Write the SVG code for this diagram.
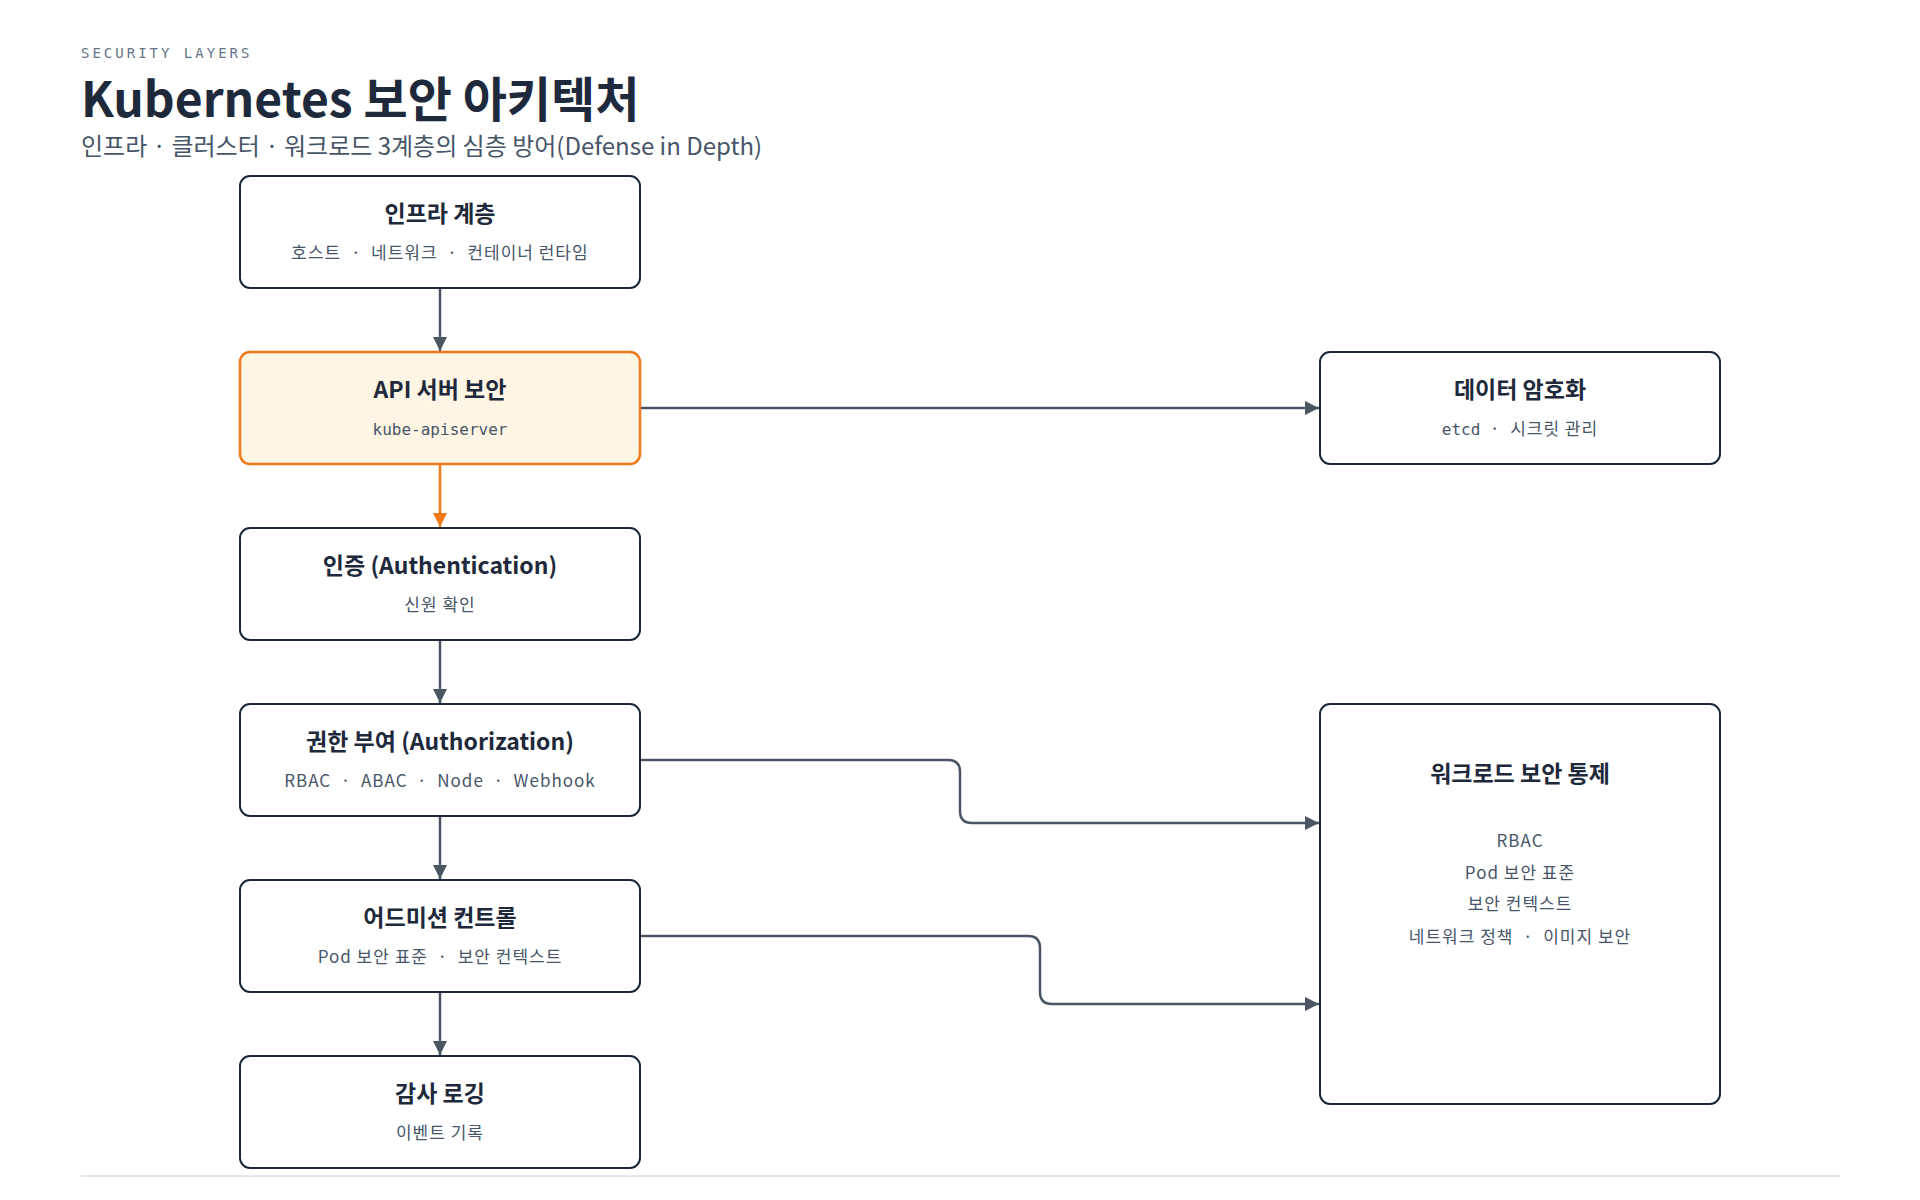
<svg xmlns="http://www.w3.org/2000/svg" width="1920" height="1200" viewBox="0 0 1920 1200">
<style>
.box{fill:#fff;stroke:#1e293b;stroke-width:2}
.hl{fill:#fef5e4;stroke:#f07a1a;stroke-width:2.5}
.t{font-family:"Noto Sans CJK KR","Noto Sans",sans-serif;font-weight:700;font-size:23px;fill:#1e293b;text-anchor:middle}
.s{font-family:"Noto Sans CJK KR","Noto Sans",sans-serif;font-size:17px;letter-spacing:1px;fill:#475569;text-anchor:middle}
.m{font-family:"DejaVu Sans Mono","Noto Sans CJK KR",monospace;font-size:16px;fill:#475569;text-anchor:middle}
.c{fill:none;stroke:#4b5563;stroke-width:2.5}
</style>
<defs>
<marker id="a" viewBox="0 0 10 10" refX="10" refY="5" markerWidth="14" markerHeight="14" markerUnits="userSpaceOnUse" orient="auto"><path d="M0,0L10,5L0,10z" fill="#4b5563"/></marker>
<marker id="ao" viewBox="0 0 10 10" refX="10" refY="5" markerWidth="14" markerHeight="14" markerUnits="userSpaceOnUse" orient="auto"><path d="M0,0L10,5L0,10z" fill="#f07a1a"/></marker>
</defs>
<rect width="1920" height="1200" fill="#fff"/>
<text x="81" y="58" font-family="DejaVu Sans Mono,monospace" font-size="14" letter-spacing="3" fill="#64748b">SECURITY LAYERS</text>
<text x="81" y="117" font-family="Noto Sans CJK KR,Noto Sans,sans-serif" font-weight="700" font-size="48" fill="#1e293b">Kubernetes 보안 아키텍처</text>
<text x="81" y="155" font-family="Noto Sans CJK KR,Noto Sans,sans-serif" font-size="24" fill="#475569">인프라 · 클러스터 · 워크로드 3계층의 심층 방어(Defense in Depth)</text>
<g id="connectors">
<path class="c" d="M440,288V351" marker-end="url(#a)"/>
<path d="M440,464V527" fill="none" stroke="#f07a1a" stroke-width="2.5" marker-end="url(#ao)"/>
<path class="c" d="M440,640V703" marker-end="url(#a)"/>
<path class="c" d="M440,816V879" marker-end="url(#a)"/>
<path class="c" d="M440,992V1055" marker-end="url(#a)"/>
<path class="c" d="M640,408H1319" marker-end="url(#a)"/>
<path class="c" d="M640,760H948Q960,760 960,772V811Q960,823 972,823H1319" marker-end="url(#a)"/>
<path class="c" d="M640,936H1028Q1040,936 1040,948V992Q1040,1004 1052,1004H1319" marker-end="url(#a)"/>
</g>
<g id="infra"><rect class="box" x="240" y="176" width="400" height="112" rx="10"/><text class="t" x="440" y="222">인프라 계층</text><text class="s" x="440" y="259" xml:space="preserve">호스트  ·  네트워크  ·  컨테이너 런타임</text></g>
<g id="api"><rect class="hl" x="240" y="352" width="400" height="112" rx="10"/><text class="t" x="440" y="398">API 서버 보안</text><text class="m" x="440" y="435">kube-apiserver</text></g>
<g id="authn"><rect class="box" x="240" y="528" width="400" height="112" rx="10"/><text class="t" x="440" y="574">인증 (Authentication)</text><text class="s" x="440" y="611">신원 확인</text></g>
<g id="authz"><rect class="box" x="240" y="704" width="400" height="112" rx="10"/><text class="t" x="440" y="750">권한 부여 (Authorization)</text><text class="s" x="440" y="787" xml:space="preserve">RBAC  ·  ABAC  ·  Node  ·  Webhook</text></g>
<g id="admission"><rect class="box" x="240" y="880" width="400" height="112" rx="10"/><text class="t" x="440" y="926">어드미션 컨트롤</text><text class="s" x="440" y="963" xml:space="preserve">Pod 보안 표준  ·  보안 컨텍스트</text></g>
<g id="audit"><rect class="box" x="240" y="1056" width="400" height="112" rx="10"/><text class="t" x="440" y="1102">감사 로깅</text><text class="s" x="440" y="1139">이벤트 기록</text></g>
<g id="data"><rect class="box" x="1320" y="352" width="400" height="112" rx="10"/><text class="t" x="1520" y="398">데이터 암호화</text><text class="s" x="1520" y="435" xml:space="preserve"><tspan font-family="DejaVu Sans Mono,monospace" font-size="16" letter-spacing="0">etcd</tspan>  ·  시크릿 관리</text></g>
<g id="workload"><rect class="box" x="1320" y="704" width="400" height="400" rx="10"/><text class="t" x="1520" y="782">워크로드 보안 통제</text>
<text class="s" x="1520" y="847">RBAC</text><text class="s" x="1520" y="879">Pod 보안 표준</text><text class="s" x="1520" y="910">보안 컨텍스트</text><text class="s" x="1520" y="943" xml:space="preserve">네트워크 정책  ·  이미지 보안</text></g>
<line x1="81" y1="1176" x2="1840" y2="1176" stroke="#e5e7eb" stroke-width="2"/>
</svg>
